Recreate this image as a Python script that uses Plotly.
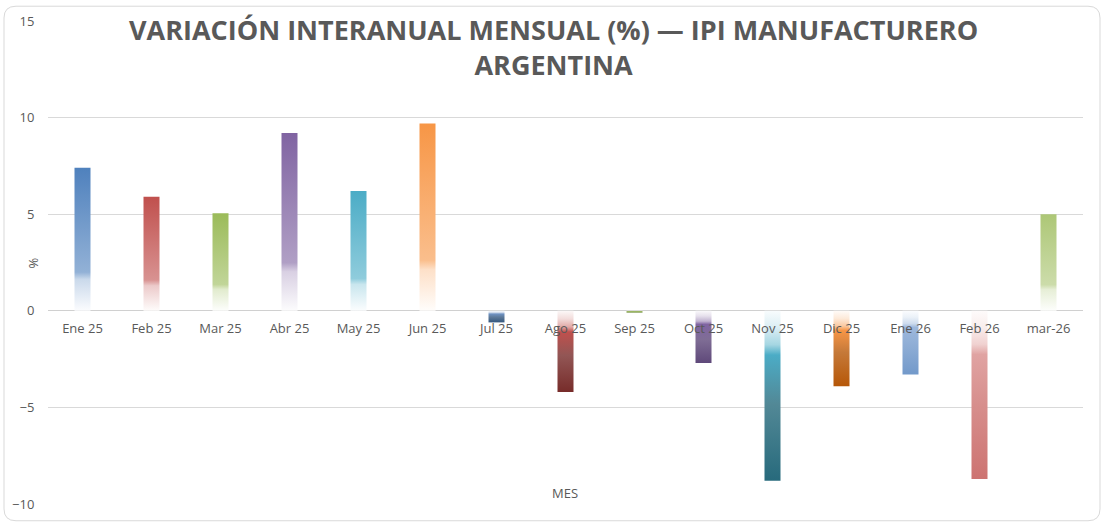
import plotly.graph_objects as go

# datos
meses = ["Ene 25", "Feb 25", "Mar 25", "Abr 25", "May 25", "Jun 25", "Jul 25", "Ago 25",
         "Sep 25", "Oct 25", "Nov 25", "Dic 25", "Ene 26", "Feb 26", "mar-26"]
variacion = [7.4, 5.9, 5.05, 9.2, 6.2, 9.7, -0.6, -4.2, -0.1, -2.7, -8.8, -3.9, -3.3, -8.7, 5.0]

# color principal y color oscuro (para barras negativas) de cada barra
color_base = ["#4F81BD", "#C0504D", "#9BBB59", "#8064A2", "#4BACC6", "#F79646", "#6F93C4", "#C0504D",
              "#9BBB59", "#8064A2", "#4BACC6", "#F79646", "#9DB8DC", "#E0A3A2", "#ADC776"]
color_oscuro = ["#4F81BD", "#C0504D", "#9BBB59", "#8064A2", "#4BACC6", "#F79646", "#34587F", "#772C2A",
                "#7F9A4E", "#5F497A", "#276A7C", "#B65708", "#7299CA", "#CD7371", "#ADC776"]

Y_MIN, Y_MAX = -10, 15
ANCHO = 0.232
W, H = 1106, 525
ML, MR, MT, MB = 48, 23, 16, 19
GRIS = "#595959"


def mezcla(hex_color, a):
    # a=1 -> color puro, a=0 -> blanco
    r, g, b = (int(hex_color[i:i + 2], 16) for i in (1, 3, 5))
    return "rgb({},{},{})".format(*(round(255 * (1 - a) + c * a) for c in (r, g, b)))


def escala(i, v):
    c = color_base[i]
    if v >= 0:
        return [[0, mezcla(c, 0.02)], [0.22, mezcla(c, 0.3)], [0.27, mezcla(c, 0.62)], [1, mezcla(c, 1)]]
    d = color_oscuro[i]
    return [[0, mezcla(d, 1)], [0.45, mezcla(d, 0.8)], [0.74, mezcla(c, 1)],
            [0.80, mezcla(c, 0.5)], [0.9, mezcla(c, 0.2)], [1, mezcla(c, 0.04)]]


fig = go.Figure()

for i, (mes, v) in enumerate(zip(meses, variacion)):
    x0, x1 = i - ANCHO / 2, i + ANCHO / 2
    fig.add_trace(
        go.Scatter(
            x=[x0, x1, x1, x0, x0],
            y=[0, 0, v, v, 0],
            mode="none",
            fill="toself",
            fillgradient=dict(type="vertical", colorscale=escala(i, v)),
            name=mes,
            hoverinfo="skip",
            showlegend=False,
        )
    )


def px_x(px):
    return (px - ML) / (W - ML - MR)


def px_y(py):
    return (H - MB - py) / (H - MT - MB)


# marco redondeado del área del gráfico
x0, x1, y0, y1, r = 4, 1100, 1, 523, 12
marco = (
    f"M {px_x(x0 + r)},{px_y(y0)} L {px_x(x1 - r)},{px_y(y0)} "
    f"Q {px_x(x1)},{px_y(y0)} {px_x(x1)},{px_y(y0 + r)} "
    f"L {px_x(x1)},{px_y(y1 - r)} Q {px_x(x1)},{px_y(y1)} {px_x(x1 - r)},{px_y(y1)} "
    f"L {px_x(x0 + r)},{px_y(y1)} Q {px_x(x0)},{px_y(y1)} {px_x(x0)},{px_y(y1 - r)} "
    f"L {px_x(x0)},{px_y(y0 + r)} Q {px_x(x0)},{px_y(y0)} {px_x(x0 + r)},{px_y(y0)} Z"
)
fig.add_shape(type="path", path=marco, xref="paper", yref="paper",
              line=dict(color="#D9D9D9", width=1), layer="below")

fig.add_annotation(text="<b>VARIACIÓN INTERANUAL MENSUAL (%) — IPI MANUFACTURERO<br>ARGENTINA</b>",
                   x=px_x(553), y=px_y(4), xref="paper", yref="paper", xanchor="center", yanchor="top",
                   showarrow=False, font=dict(family="Open Sans, sans-serif", size=27, color=GRIS))
fig.add_annotation(text="%", x=px_x(33), y=px_y(262), xref="paper", yref="paper",
                   xanchor="center", yanchor="middle",
                   showarrow=False, textangle=-90, font=dict(size=13, color=GRIS))
fig.add_annotation(text="MES", x=px_x(565), y=px_y(495), xref="paper", yref="paper",
                   xanchor="center", yanchor="middle",
                   showarrow=False, font=dict(size=13, color=GRIS))

fig.update_layout(
    width=W,
    height=H,
    margin=dict(l=ML, r=MR, t=MT, b=MB),
    paper_bgcolor="white",
    plot_bgcolor="white",
    font=dict(family="Open Sans, Segoe UI, sans-serif", size=13, color=GRIS),
    showlegend=False,
)

fig.update_xaxes(
    range=[-0.5, len(meses) - 0.5],
    tickvals=list(range(len(meses))),
    ticktext=meses,
    showgrid=False,
    zeroline=False,
    showline=False,
    anchor="free",
    position=(0 - Y_MIN) / (Y_MAX - Y_MIN),
    ticks="outside",
    ticklen=6,
    tickcolor="rgba(0,0,0,0)",
    tickfont=dict(size=13, color=GRIS),
)

fig.update_yaxes(
    range=[Y_MIN, Y_MAX],
    dtick=5,
    showgrid=True,
    gridcolor="#D9D9D9",
    gridwidth=1,
    zeroline=True,
    zerolinecolor="#D0D0D0",
    zerolinewidth=1,
    showline=False,
    ticks="outside",
    ticklen=10,
    tickcolor="rgba(0,0,0,0)",
    tickfont=dict(size=13, color=GRIS),
)

# sin margen del <body> para que la figura ocupe la ventana tal cual
fig.write_html("out.html", config={"displayModeBar": False},
               post_script="document.body.style.margin = '0';")
